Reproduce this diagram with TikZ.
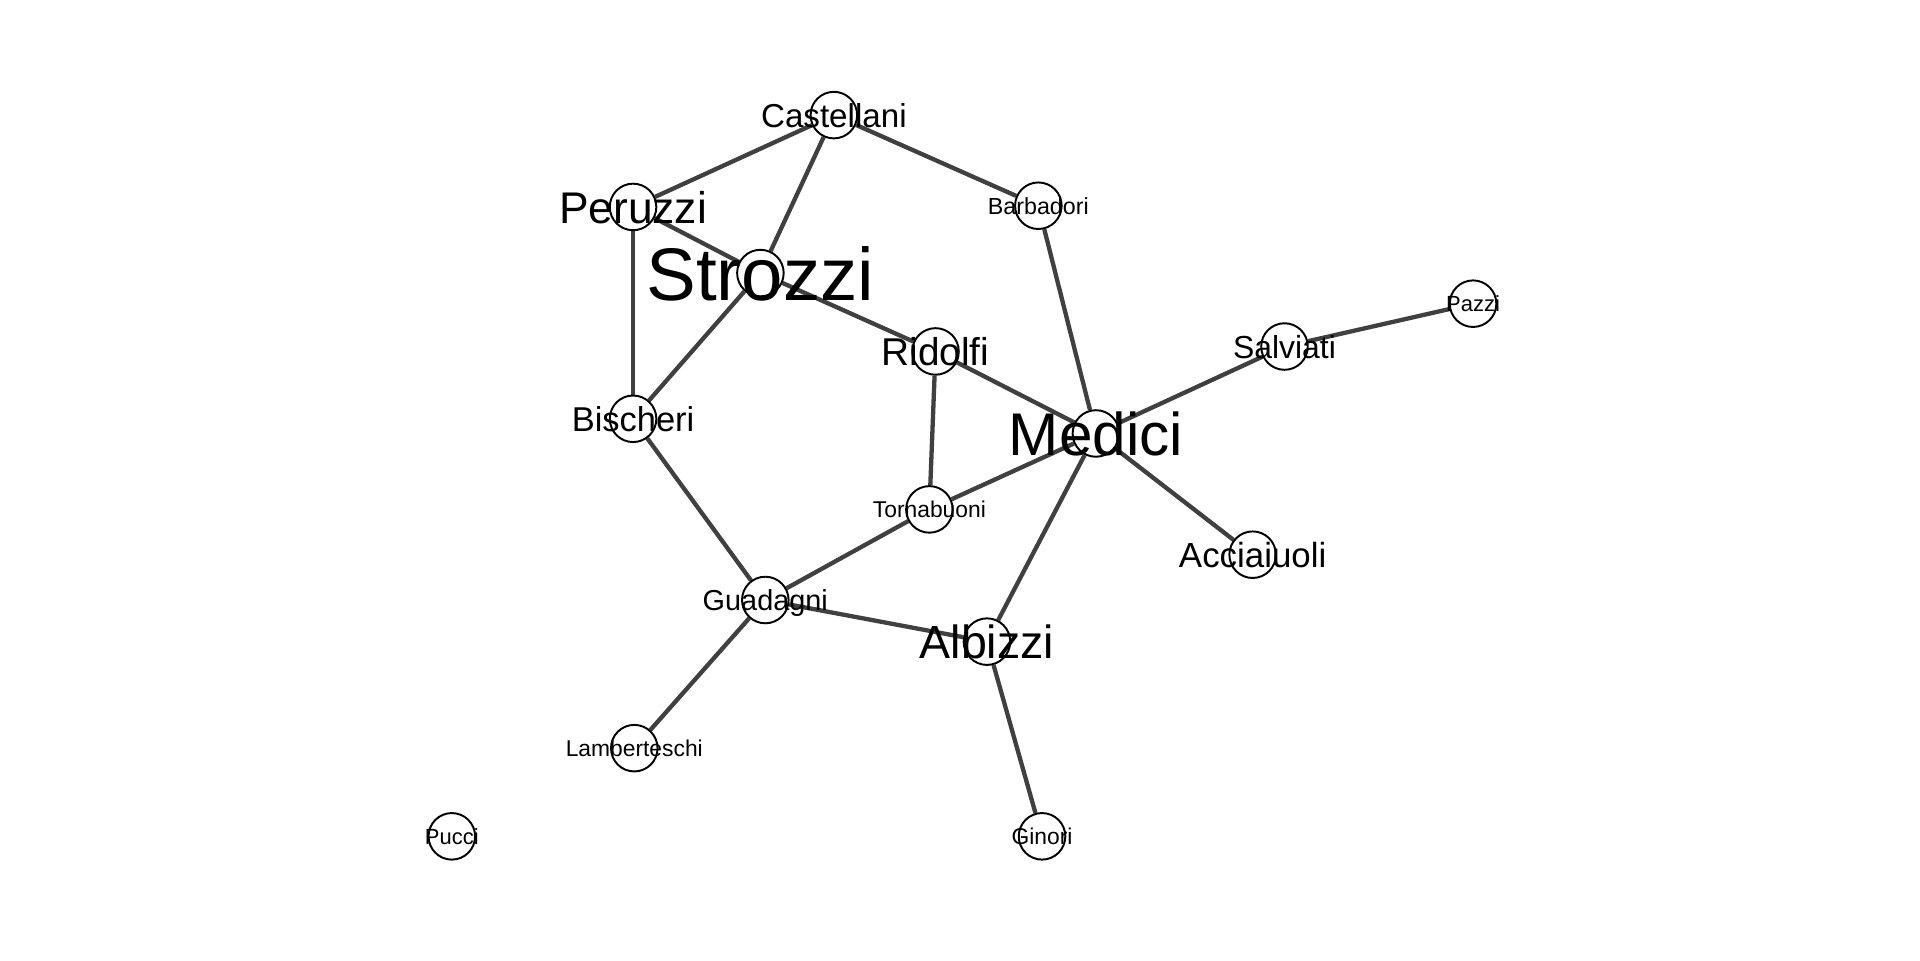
\documentclass[tikz,border=0pt]{standalone}
\usepackage{fontspec}
\setmainfont{Liberation Sans}
\definecolor{tiegray}{HTML}{404040}
\newcommand{\famfont}[1]{\fontsize{#1}{#1}\selectfont}
\pgfdeclarelayer{ties}
\pgfsetlayers{ties,main}
\tikzset{
  fam/.style={circle,draw=black,fill=white,line width=0.45pt,minimum size=0.38cm,inner sep=0pt},
  lab/.style={inner sep=0pt,text depth=0pt},
  tie/.style={draw=tiegray,line width=1pt},
}
\begin{document}
\begin{tikzpicture}[x=0.01cm,y=-0.01cm]
	\useasboundingbox (0,0) rectangle (1568,784);
	\node[fam,label={[lab,font=\famfont{7.7}]center:Castellani}] (castellani) at (681,94) {};
	\node[fam,label={[lab,font=\famfont{10.3}]center:Peruzzi}] (peruzzi) at (517,169) {};
	\node[fam,label={[lab,font=\famfont{5.4}]center:Barbadori}] (barbadori) at (848,168) {};
	\node[fam,label={[lab,font=\famfont{17.3}]center:Strozzi}] (strozzi) at (621,223) {};
	\node[fam,label={[lab,font=\famfont{5.1}]center:Pazzi}] (pazzi) at (1203,248) {};
	\node[fam,label={[lab,font=\famfont{9}]center:Ridolfi}] (ridolfi) at (764,287) {};
	\node[fam,label={[lab,font=\famfont{7.4}]center:Salviati}] (salviati) at (1049,283) {};
	\node[fam,label={[lab,font=\famfont{8}]center:Bischeri}] (bischeri) at (517,342) {};
	\node[fam,label={[lab,font=\famfont{14}]center:Medici}] (medici) at (895,354) {};
	\node[fam,label={[lab,font=\famfont{5.3}]center:Tornabuoni}] (tornabuoni) at (759,416) {};
	\node[fam,label={[lab,font=\famfont{8.1}]center:Acciaiuoli}] (acciaiuoli) at (1023,453) {};
	\node[fam,label={[lab,font=\famfont{6.7}]center:Guadagni}] (guadagni) at (625,490) {};
	\node[fam,label={[lab,font=\famfont{10.8}]center:Albizzi}] (albizzi) at (806,524) {};
	\node[fam,label={[lab,font=\famfont{5.3}]center:Lamberteschi}] (lamberteschi) at (518,611) {};
	\node[fam,label={[lab,font=\famfont{5.1}]center:Pucci}] (pucci) at (369,683) {};
	\node[fam,label={[lab,font=\famfont{5.3}]center:Ginori}] (ginori) at (851,683) {};
	\begin{pgfonlayer}{ties}
		\draw[tie] (castellani) -- (peruzzi);
		\draw[tie] (castellani) -- (strozzi);
		\draw[tie] (castellani) -- (barbadori);
		\draw[tie] (peruzzi) -- (strozzi);
		\draw[tie] (peruzzi) -- (bischeri);
		\draw[tie] (strozzi) -- (ridolfi);
		\draw[tie] (strozzi) -- (bischeri);
		\draw[tie] (barbadori) -- (medici);
		\draw[tie] (ridolfi) -- (medici);
		\draw[tie] (ridolfi) -- (tornabuoni);
		\draw[tie] (medici) -- (salviati);
		\draw[tie] (salviati) -- (pazzi);
		\draw[tie] (medici) -- (acciaiuoli);
		\draw[tie] (medici) -- (tornabuoni);
		\draw[tie] (medici) -- (albizzi);
		\draw[tie] (bischeri) -- (guadagni);
		\draw[tie] (tornabuoni) -- (guadagni);
		\draw[tie] (guadagni) -- (albizzi);
		\draw[tie] (guadagni) -- (lamberteschi);
		\draw[tie] (albizzi) -- (ginori);
	\end{pgfonlayer}
\end{tikzpicture}
\end{document}
